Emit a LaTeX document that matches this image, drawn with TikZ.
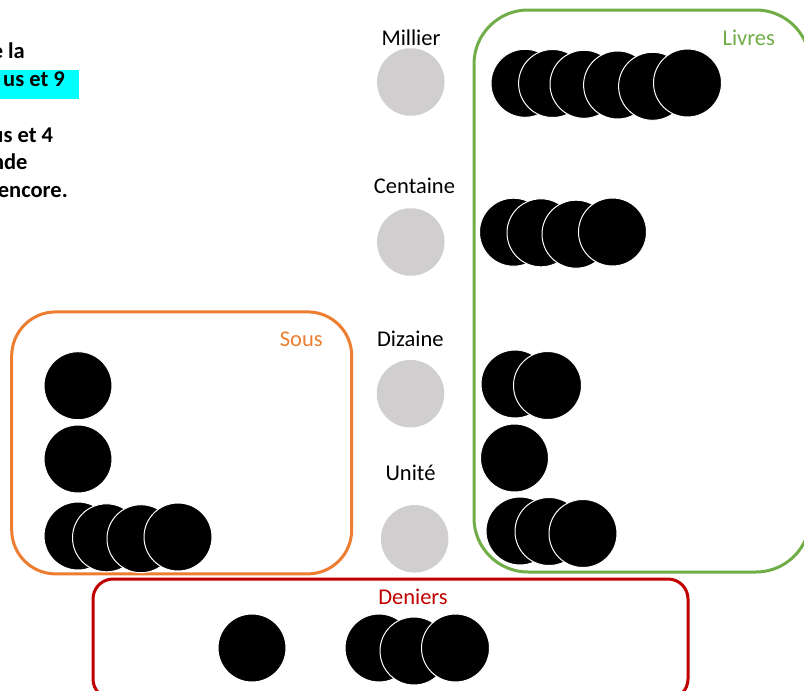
\documentclass[tikz,border=0pt]{standalone}
\usepackage{fontspec}
\setmainfont{Carlito}
\definecolor{livresgreen}{RGB}{112,173,71}
\definecolor{sousorange}{RGB}{237,125,49}
\definecolor{deniersred}{RGB}{192,0,0}
\definecolor{slotgray}{RGB}{208,206,206}
\definecolor{marker}{RGB}{0,255,255}
\begin{document}
\begin{tikzpicture}[x=1pt,y=-1pt,
  coin/.style={circle, fill=black, draw=white, line width=1pt, inner sep=0pt, minimum size=68pt},
  slot/.style={circle, fill=slotgray, inner sep=0pt, minimum size=67.5pt},
  panel/.style={rectangle, line width=3pt, inner sep=0pt},
  rank/.style={anchor=base, inner sep=0pt, font=\fontsize{22.5}{27}\selectfont},
  note/.style={anchor=base east, inner sep=0pt, font=\fontsize{22.5}{27}\selectfont\bfseries}]
\useasboundingbox (0,0) rectangle (804,691);

% highlighted line of the explanation text
\node[fill=marker, anchor=north west, inner sep=0pt, minimum width=79pt, minimum height=28.5pt] (hl) at (0,70) {};
\node[note] (n1) at (25,58.5) {e la};
\node[note] (n2) at (65,86.8) {us et 9};
\node[note] (n3) at (53.3,142) {us et 4};
\node[note] (n4) at (27.7,169.5) {nde};
\node[note] (n5) at (68,197.5) {encore.};

% the three groups
\node[panel, draw=livresgreen, rounded corners=54pt, minimum width=336pt, minimum height=562pt] (livres) at (642,291) {};
\node[panel, draw=sousorange, rounded corners=44pt, minimum width=340pt, minimum height=262pt] (sous) at (181.7,442.9) {};
\node[panel, draw=deniersred, rounded corners=20pt, minimum width=595pt, minimum height=120pt] (deniers) at (390.5,639) {};

\node[rank, text=livresgreen] (livreslbl) at (748.8,45) {Livres};
\node[rank, text=sousorange] (souslbl) at (301.3,346) {Sous};
\node[rank, text=deniersred] (denierslbl) at (413,604.3) {Deniers};

% place-value column
\node[rank] (millierlbl) at (411,45) {Millier};
\node[slot] (millier) at (410.8,82) {};
\node[rank] (centainelbl) at (414.5,193.3) {Centaine};
\node[slot] (centaine) at (410.8,242) {};
\node[rank] (dizainelbl) at (410.3,346.7) {Dizaine};
\node[slot] (dizaine) at (410.5,393.7) {};
\node[rank] (unitelbl) at (410.5,480.7) {Unité};
\node[slot] (unite) at (414.7,538.8) {};

% livres counters
\node[coin] (lm1) at (525,83.3) {};
\node[coin] (lm2) at (552.6,83.5) {};
\node[coin] (lm3) at (584,84.3) {};
\node[coin] (lm4) at (617.6,85) {};
\node[coin] (lm5) at (652.6,86.3) {};
\node[coin] (lm6) at (687.5,83) {};

\node[coin] (lc1) at (513.5,232.2) {};
\node[coin] (lc2) at (541,232.8) {};
\node[coin] (lc3) at (576,234.2) {};
\node[coin] (lc4) at (612.5,232) {};

\node[coin] (ld1) at (515,384) {};
\node[coin] (ld2) at (547.5,385.5) {};

\node[coin] (lu1) at (514.5,458) {};

\node[coin] (lx1) at (520,531) {};
\node[coin] (lx2) at (549,531.5) {};
\node[coin] (lx3) at (583,533.5) {};

% sous counters
\node[coin] (s1) at (78,385.7) {};
\node[coin] (s2) at (78,459) {};
\node[coin] (s3) at (78,536) {};
\node[coin] (s4) at (106.5,537.8) {};
\node[coin] (s5) at (141,538.7) {};
\node[coin] (s6) at (178,537) {};

% deniers counters
\node[coin] (d1) at (252,648) {};
\node[coin] (d2) at (379,648) {};
\node[coin] (d3) at (414,651) {};
\node[coin] (d4) at (455.5,648) {};
\end{tikzpicture}
\end{document}
